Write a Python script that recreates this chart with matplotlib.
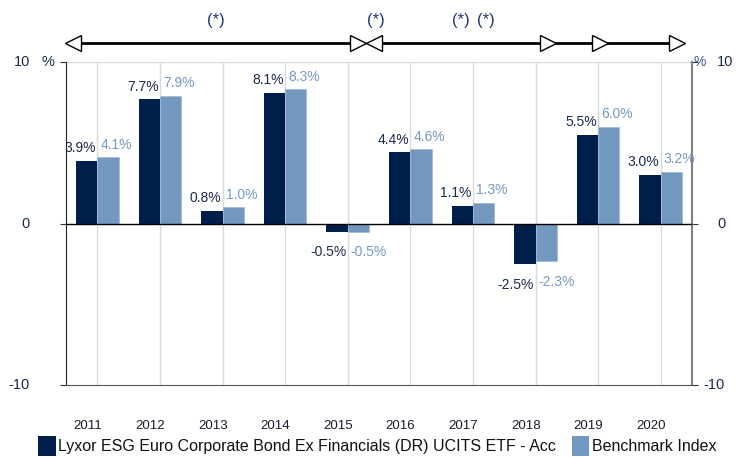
import matplotlib
import matplotlib.pyplot as plt
import matplotlib.transforms as mtransforms
from matplotlib.patches import Patch
import numpy as np

matplotlib.use("Agg")
plt.rcParams["font.family"] = ["Liberation Sans", "DejaVu Sans"]

years = ["2011", "2012", "2013", "2014", "2015", "2016", "2017", "2018", "2019", "2020"]
fund = [3.9, 7.7, 0.8, 8.1, -0.5, 4.4, 1.1, -2.5, 5.5, 3.0]
bench = [4.1, 7.9, 1.0, 8.3, -0.5, 4.6, 1.3, -2.3, 6.0, 3.2]
fund_name = "Lyxor ESG Euro Corporate Bond Ex Financials (DR) UCITS ETF - Acc"
bench_name = "Benchmark Index"
yticks = [10, 0, -10]
# index-change periods shown above the chart: (start, end, left head, right head)
periods = [(-0.47, 4.24, True, True), (4.34, 7.28, True, True),
           (7.28, 8.11, False, True), (8.11, 9.34, False, True)]
star_pos = [1.9, 4.45, 5.8, 6.2]

DARK = "#001e4a"
LIGHT = "#7399c0"
TXT = "#1c2a4c"

fig = plt.figure(figsize=(7.47, 4.57), dpi=100)
ax = fig.add_axes([66 / 747, 1 - 385 / 457, 626 / 747, 323 / 457])

x = np.arange(len(years))
w = 0.34
ax.bar(x - w / 2, fund, w, color=DARK, zorder=3)
ax.bar(x + w / 2, bench, w, color=LIGHT, edgecolor="#9db7d4", linewidth=0.5, zorder=3)

ax.set_xlim(-0.5, len(years) - 0.5)
ax.set_ylim(-10, 10)

for xi in x:
    ax.axvline(xi, color="#d9d9d9", lw=1, zorder=1)
ax.axhline(10, color="#d9d9d9", lw=1, zorder=1)
ax.axhline(0, color="black", lw=1, zorder=4)

ax.spines["top"].set_visible(False)
ax.spines["left"].set_color("#222222")
ax.spines["right"].set_color("#808080")
ax.spines["right"].set_linewidth(1.5)
ax.spines["bottom"].set_color("#555555")

# value labels
off_up = mtransforms.ScaledTranslation(0, 4 / 72, fig.dpi_scale_trans)
off_dn = mtransforms.ScaledTranslation(0, -10 / 72, fig.dpi_scale_trans)
for xi, f, b in zip(x, fund, bench):
    for v, ha, dx, col in [(f, "right", -0.02, TXT), (b, "left", 0.05, LIGHT)]:
        if v >= 0:
            ax.text(xi + dx, v, f"{v:.1f}%", ha=ha, va="bottom", color=col,
                    fontsize=10, transform=ax.transData + off_up)
        else:
            ax.text(xi + dx, v, f"{v:.1f}%", ha=ha, va="top", color=col,
                    fontsize=10, transform=ax.transData + off_dn)

# x tick labels
ax.set_xticks(x)
ax.set_xticklabels(years, fontsize=9.5, color="#1a1a2e")
ax.tick_params(axis="x", length=0, pad=25)
shift = mtransforms.ScaledTranslation(-7 / 72, 0, fig.dpi_scale_trans)
for lab in ax.get_xticklabels():
    lab.set_transform(lab.get_transform() + shift)

# y ticks on both sides
ax.set_yticks(yticks)
ax.set_yticklabels([])
ax.tick_params(axis="y", left=True, right=True, length=4, color="#333333")
ytr = mtransforms.blended_transform_factory(fig.transFigure, ax.transData)
for t in yticks:
    ax.text(30 / 747, t, str(t), ha="right", va="center", fontsize=10.5,
            color=TXT, transform=ytr)
    ax.text(717 / 747 if t >= 0 else 703 / 747, t, str(t), ha="left", va="center",
            fontsize=10.5, color=TXT, transform=ytr)
ax.text(42 / 747, 10, "%", ha="left", va="center", fontsize=10.5, color=TXT, transform=ytr)
ax.text(693 / 747, 10, "%", ha="left", va="center", fontsize=10, color="#3a5a90",
        transform=ytr)

# period arrows above chart
atr = mtransforms.blended_transform_factory(ax.transData, fig.transFigure)
ya = 1 - 43 / 457
for x0, x1, lh, rh in periods:
    ax.plot([x0, x1], [ya, ya], color="black", lw=2, transform=atr, clip_on=False,
            solid_capstyle="butt")
    if lh:
        ax.plot([x0 + 0.08], [ya], marker="<", ms=11, mfc="white", mec="black",
                mew=1, transform=atr, clip_on=False, zorder=5)
    if rh:
        ax.plot([x1 - 0.08], [ya], marker=">", ms=11, mfc="white", mec="black",
                mew=1, transform=atr, clip_on=False, zorder=5)
for sp in star_pos:
    ax.text(sp, 1 - 21 / 457, "(*)", ha="center", va="center", fontsize=12,
            color="#233a6b", transform=atr)

# legend
handles = [Patch(facecolor=DARK, label=fund_name), Patch(facecolor=LIGHT, label=bench_name)]
fig.legend(handles=handles, loc="center", bbox_to_anchor=(0.505, 1 - 446 / 457), ncol=2,
           frameon=False, fontsize=11.5, handlelength=1.1, handleheight=1.5,
           handletextpad=0.15, columnspacing=1.0, borderpad=0, labelcolor="#111111")

fig.savefig("out.png", dpi=100)
